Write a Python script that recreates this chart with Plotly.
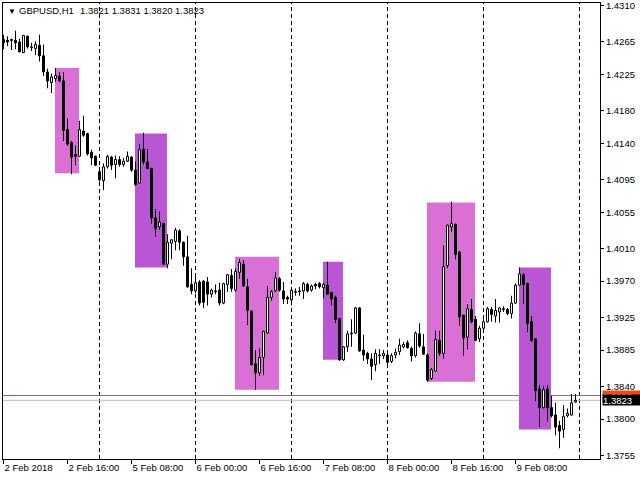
import plotly.graph_objects as go

# ---------------- data (GBPUSD H1) ----------------
opens = [1.4268, 1.4267, 1.4268, 1.4267, 1.4265, 1.4252, 1.4272, 1.4258, 1.4257, 1.4261,
         1.4248, 1.4228, 1.4215, 1.4220, 1.4223, 1.4217, 1.4157, 1.4141, 1.4126, 1.4124,
         1.4155, 1.4152, 1.4129, 1.4124, 1.4105, 1.4094, 1.4111, 1.4123, 1.4114, 1.4120,
         1.4114, 1.4118, 1.4123, 1.4107, 1.4091, 1.4133, 1.4117, 1.4109, 1.4048, 1.4037,
         1.4041, 1.3991, 1.4017, 1.4019, 1.4032, 1.4018, 1.4000, 1.3966, 1.3958, 1.3969,
         1.3970, 1.3969, 1.3954, 1.3958, 1.3959, 1.3943, 1.3966, 1.3977, 1.3959, 1.3981,
         1.3991, 1.3963, 1.3933, 1.3868, 1.3857, 1.3876, 1.3906, 1.3950, 1.3958, 1.3973,
         1.3958, 1.3950, 1.3947, 1.3956, 1.3957, 1.3958, 1.3966, 1.3959, 1.3966, 1.3967,
         1.3962, 1.3965, 1.3956, 1.3950, 1.3924, 1.3873, 1.3889, 1.3905, 1.3906, 1.3937,
         1.3885, 1.3881, 1.3874, 1.3867, 1.3878, 1.3878, 1.3879, 1.3871, 1.3879, 1.3883,
         1.3889, 1.3894, 1.3887, 1.3878, 1.3905, 1.3889, 1.3879, 1.3850, 1.3859, 1.3897,
         1.3881, 1.3989, 1.4037, 1.4040, 1.4006, 1.3928, 1.3901, 1.3935, 1.3923, 1.3899,
         1.3912, 1.3920, 1.3935, 1.3927, 1.3932, 1.3935, 1.3935, 1.3930, 1.3943, 1.3965,
         1.3978, 1.3967, 1.3920, 1.3899, 1.3837, 1.3814, 1.3837, 1.3814, 1.3805, 1.3792,
         1.3787, 1.3804, 1.3805, 1.3821]
highs = [1.4274, 1.4272, 1.4269, 1.4279, 1.4269, 1.4274, 1.4273, 1.4264, 1.4266, 1.4274,
         1.4262, 1.4232, 1.4226, 1.4233, 1.4228, 1.4228, 1.4171, 1.4143, 1.4137, 1.4168,
         1.4174, 1.4153, 1.4132, 1.4125, 1.4111, 1.4115, 1.4126, 1.4124, 1.4125, 1.4124,
         1.4122, 1.4130, 1.4124, 1.4118, 1.4139, 1.4153, 1.4133, 1.4110, 1.4059, 1.4056,
         1.4042, 1.4028, 1.4022, 1.4036, 1.4034, 1.4019, 1.4026, 1.3986, 1.3979, 1.3971,
         1.3971, 1.3975, 1.3961, 1.3966, 1.3968, 1.3968, 1.3979, 1.3985, 1.3986, 1.3998,
         1.3996, 1.3973, 1.3934, 1.3885, 1.3887, 1.3909, 1.3964, 1.3959, 1.3981, 1.3975,
         1.3969, 1.3952, 1.3961, 1.3961, 1.3963, 1.3969, 1.3968, 1.3966, 1.3968, 1.3969,
         1.3968, 1.3994, 1.3957, 1.3952, 1.3925, 1.3890, 1.3909, 1.3923, 1.3938, 1.3938,
         1.3904, 1.3883, 1.3881, 1.3886, 1.3886, 1.3885, 1.3882, 1.3881, 1.3887, 1.3899,
         1.3895, 1.3897, 1.3889, 1.3908, 1.3918, 1.3905, 1.3881, 1.3863, 1.3909, 1.3909,
         1.4014, 1.4040, 1.4068, 1.4041, 1.4007, 1.3929, 1.3942, 1.3948, 1.3927, 1.3915,
         1.3923, 1.3938, 1.3938, 1.3948, 1.3938, 1.3939, 1.3937, 1.3952, 1.3967, 1.3987,
         1.3980, 1.3968, 1.3927, 1.3900, 1.3842, 1.3841, 1.3842, 1.3829, 1.3820, 1.3798,
         1.3817, 1.3813, 1.3831, 1.3831]
lows = [1.4256, 1.4260, 1.4255, 1.4256, 1.4252, 1.4251, 1.4257, 1.4254, 1.4249, 1.4241,
        1.4223, 1.4208, 1.4202, 1.4216, 1.4215, 1.4143, 1.4137, 1.4102, 1.4113, 1.4123,
        1.4148, 1.4125, 1.4113, 1.4112, 1.4093, 1.4082, 1.4109, 1.4107, 1.4097, 1.4111,
        1.4111, 1.4117, 1.4105, 1.4088, 1.4090, 1.4114, 1.4108, 1.4041, 1.4025, 1.4033,
        1.3990, 1.3986, 1.3997, 1.4008, 1.4008, 1.3989, 1.3962, 1.3954, 1.3955, 1.3940,
        1.3937, 1.3940, 1.3950, 1.3954, 1.3940, 1.3942, 1.3957, 1.3957, 1.3957, 1.3973,
        1.3963, 1.3916, 1.3866, 1.3836, 1.3853, 1.3854, 1.3905, 1.3946, 1.3957, 1.3957,
        1.3942, 1.3942, 1.3940, 1.3952, 1.3952, 1.3948, 1.3956, 1.3957, 1.3960, 1.3961,
        1.3949, 1.3953, 1.3940, 1.3918, 1.3872, 1.3872, 1.3883, 1.3889, 1.3905, 1.3883,
        1.3872, 1.3868, 1.3848, 1.3859, 1.3868, 1.3874, 1.3868, 1.3869, 1.3875, 1.3879,
        1.3887, 1.3887, 1.3871, 1.3876, 1.3888, 1.3879, 1.3846, 1.3848, 1.3858, 1.3878,
        1.3874, 1.3986, 1.4031, 1.3997, 1.3915, 1.3878, 1.3886, 1.3918, 1.3896, 1.3895,
        1.3911, 1.3919, 1.3920, 1.3919, 1.3919, 1.3932, 1.3928, 1.3924, 1.3942, 1.3964,
        1.3942, 1.3907, 1.3895, 1.3822, 1.3790, 1.3813, 1.3797, 1.3802, 1.3780, 1.3764,
        1.3777, 1.3802, 1.3804, 1.3820]
closes = [1.4264, 1.4265, 1.4267, 1.4264, 1.4253, 1.4273, 1.4259, 1.4259, 1.4262, 1.4248,
          1.4228, 1.4217, 1.4222, 1.4224, 1.4217, 1.4156, 1.4139, 1.4123, 1.4124, 1.4157,
          1.4150, 1.4127, 1.4122, 1.4113, 1.4095, 1.4111, 1.4124, 1.4113, 1.4120, 1.4114,
          1.4118, 1.4124, 1.4107, 1.4089, 1.4132, 1.4117, 1.4109, 1.4048, 1.4035, 1.4043,
          1.3991, 1.4018, 1.4021, 1.4033, 1.4018, 1.4000, 1.3963, 1.3958, 1.3968, 1.3943,
          1.3944, 1.3954, 1.3959, 1.3957, 1.3943, 1.3967, 1.3978, 1.3961, 1.3982, 1.3993,
          1.3964, 1.3934, 1.3867, 1.3857, 1.3876, 1.3908, 1.3950, 1.3957, 1.3974, 1.3959,
          1.3948, 1.3948, 1.3959, 1.3957, 1.3958, 1.3967, 1.3958, 1.3964, 1.3964, 1.3963,
          1.3966, 1.3954, 1.3948, 1.3923, 1.3873, 1.3889, 1.3905, 1.3906, 1.3937, 1.3884,
          1.3879, 1.3874, 1.3865, 1.3881, 1.3879, 1.3881, 1.3870, 1.3878, 1.3882, 1.3891,
          1.3892, 1.3888, 1.3878, 1.3906, 1.3890, 1.3880, 1.3848, 1.3861, 1.3898, 1.3881,
          1.3988, 1.4039, 1.4041, 1.4003, 1.3926, 1.3900, 1.3936, 1.3920, 1.3897, 1.3912,
          1.3920, 1.3936, 1.3929, 1.3934, 1.3937, 1.3936, 1.3930, 1.3943, 1.3965, 1.3979,
          1.3966, 1.3918, 1.3897, 1.3835, 1.3814, 1.3836, 1.3814, 1.3804, 1.3790, 1.3785,
          1.3803, 1.3807, 1.3820, 1.3823]

time_tick_bars = [0, 16, 32, 48, 64, 80, 96, 112, 128]
time_tick_labels = ["2 Feb 2018", "2 Feb 16:00", "5 Feb 08:00", "6 Feb 00:00", "6 Feb 16:00",
                    "7 Feb 08:00", "8 Feb 00:00", "8 Feb 16:00", "9 Feb 08:00"]
price_ticks = [1.4310, 1.4265, 1.4225, 1.4180, 1.4140, 1.4095, 1.4055, 1.4010,
               1.3970, 1.3925, 1.3885, 1.3840, 1.3800, 1.3755]
day_separator_bars = [24, 48, 72, 96, 120, 144]

zone_start_bar = [13, 33, 58, 80, 106, 129]
zone_end_bar = [19, 41, 69, 85, 118, 137]
zone_top = [1.4233, 1.4152, 1.4000, 1.3994, 1.4067, 1.3987]
zone_bottom = [1.4103, 1.3987, 1.3836, 1.3873, 1.3846, 1.3787]
zone_colors = ["#DA70D6", "#BA55D3", "#DA70D6", "#BA55D3", "#DA70D6", "#BA55D3"]

symbol_title = "GBPUSD,H1"
bid_price = 1.3823
ask_price = 1.3829

# ---------------- figure ----------------
FONT = "Liberation Sans, Arial, sans-serif"
FS = 9.5
n = len(opens)
idx = list(range(n))
bull = [i for i in idx if closes[i] >= opens[i]]
bear = [i for i in idx if closes[i] < opens[i]]

fig = go.Figure()
fig.add_trace(go.Bar(x=idx, base=lows, y=[h - l for h, l in zip(highs, lows)],
                     width=0.225, marker=dict(color="black", line=dict(width=0)),
                     hoverinfo="skip"))
fig.add_trace(go.Bar(x=bull, base=[opens[i] for i in bull],
                     y=[max(closes[i] - opens[i], 0.00004) for i in bull],
                     width=0.5, marker=dict(color="white", line=dict(color="black", width=1)),
                     hoverinfo="skip"))
fig.add_trace(go.Bar(x=bear, base=[closes[i] for i in bear],
                     y=[max(opens[i] - closes[i], 0.00004) for i in bear],
                     width=0.5, marker=dict(color="black", line=dict(color="black", width=1)),
                     hoverinfo="skip"))

shapes = []
for s, e, t, b, c in zip(zone_start_bar, zone_end_bar, zone_top, zone_bottom, zone_colors):
    shapes.append(dict(type="rect", xref="x", yref="y", x0=s - 0.125, x1=e - 0.125,
                       y0=b, y1=t, fillcolor=c, line=dict(width=0), layer="below"))
for d in day_separator_bars:
    shapes.append(dict(type="line", xref="x", yref="paper", x0=d, x1=d, y0=0, y1=1,
                       line=dict(color="black", width=1, dash="4px,3px"), layer="below"))
shapes.append(dict(type="line", xref="paper", yref="y", x0=0, x1=1, y0=bid_price, y1=bid_price,
                   line=dict(color="#C0C0C0", width=1), layer="below"))
shapes.append(dict(type="line", xref="paper", yref="y", x0=0, x1=1, y0=ask_price, y1=ask_price,
                   line=dict(color="#FF4500", width=1), layer="below"))

annotations = [
    dict(text="▼", xref="paper", yref="paper", x=0, y=1, xanchor="left", yanchor="middle",
         xshift=3, yshift=-8, showarrow=False, font=dict(family=FONT, size=8, color="black")),
    dict(text=symbol_title, xref="paper", yref="paper", x=0, y=1, xanchor="left", yanchor="middle",
         xshift=14, yshift=-7.5, showarrow=False, font=dict(family=FONT, size=FS, color="black")),
    dict(text=" ".join(f"{v:.4f}" for v in (opens[-1], highs[-1], lows[-1], closes[-1])),
         xref="paper", yref="paper", x=0, y=1, xanchor="left", yanchor="middle",
         xshift=74.5, yshift=-7.5, showarrow=False, font=dict(family=FONT, size=FS, color="black")),
    dict(text=f"{ask_price:.4f}", xref="paper", yref="y", x=1, y=ask_price, xanchor="left",
         yanchor="middle", xshift=2, showarrow=False, bgcolor="#FF4500", borderpad=0,
         width=37, height=10, align="left", font=dict(family=FONT, size=FS, color="white")),
    dict(text=f"{bid_price:.4f}", xref="paper", yref="y", x=1, y=bid_price, xanchor="left",
         yanchor="middle", xshift=2, showarrow=False, bgcolor="black", borderpad=0,
         width=37, height=10, align="left", font=dict(family=FONT, size=FS, color="white")),
]

fig.update_layout(
    template="none",
    width=640, height=480,
    margin=dict(l=3, r=40, t=3, b=21, pad=0, autoexpand=False),
    paper_bgcolor="white", plot_bgcolor="white",
    showlegend=False, barmode="overlay", bargap=0.2,
    font=dict(family=FONT, size=FS, color="black"),
    shapes=shapes, annotations=annotations,
    xaxis=dict(range=[-0.125, 149.125], tickmode="array", tickvals=time_tick_bars,
               ticktext=time_tick_labels, ticks="outside", ticklen=4, tickwidth=1,
               tickcolor="black", showline=True, linecolor="black", linewidth=1, mirror=True,
               showgrid=False, zeroline=False, ticklabelposition="outside right",
               automargin=False, fixedrange=True),
    yaxis=dict(range=[1.375068, 1.431308], side="right", tickmode="array",
               tickvals=price_ticks, ticktext=[f"{p:.4f}" for p in price_ticks],
               ticks="outside", ticklen=3, tickwidth=1, tickcolor="black",
               showline=True, linecolor="black", linewidth=1, mirror=True,
               ticklabeloverflow="allow",
               showgrid=False, zeroline=False, automargin=False, fixedrange=True),
)

fig.write_html("out.html", config={"displayModeBar": False},
               post_script="document.body.style.margin='0px';document.body.style.overflow='hidden';")
